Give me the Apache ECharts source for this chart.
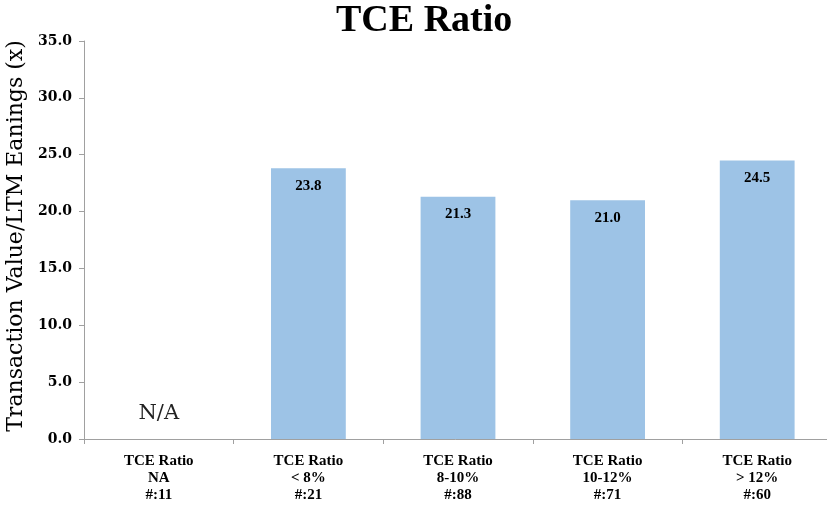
<!DOCTYPE html>
<html><head><meta charset="utf-8">
<script src="https://cdn.jsdelivr.net/npm/echarts@6/dist/echarts.min.js"></script>
<style>html,body{margin:0;padding:0;background:#fff}#c{width:827px;height:505px}</style>
</head><body><div id="c"></div>
<script>
var categories = ["TCE Ratio\nNA\n#:11", "TCE Ratio\n< 8%\n#:21", "TCE Ratio\n8-10%\n#:88", "TCE Ratio\n10-12%\n#:71", "TCE Ratio\n> 12%\n#:60"];
var values = [null, 23.8, 21.3, 21.0, 24.5];
var naLabel = "N/A";
var yTicks = [0, 5, 10, 15, 20, 25, 30, 35];

var serif = "'Liberation Serif','DejaVu Serif',serif";
var wide = "'DejaVu Serif','Liberation Serif',serif";
var data = values.map(function(v){
  if (v === null) {
    return {value: 0, label: {show: true, position: 'top', distance: 15, formatter: naLabel,
      fontWeight: 'normal', fontSize: 21, color: '#222', fontFamily: wide}};
  }
  return v;
});
var chart = echarts.init(document.getElementById('c'));
chart.setOption({
  animation: false,
  title: {text: 'TCE Ratio', left: 331, top: -3,
    textStyle: {fontFamily: serif, fontWeight: 'bold', fontSize: 38, color: '#000'}},
  grid: {left: 84, top: 41, bottom: 66, width: 748, outerBoundsMode: 'none', containLabel: false},
  xAxis: {type: 'category', data: categories,
    axisLine: {lineStyle: {color: '#a0a0a0'}},
    axisTick: {show: true, alignWithLabel: false, length: 5, lineStyle: {color: '#a0a0a0'}},
    axisLabel: {interval: 0, fontFamily: serif, fontWeight: 'bold', fontSize: 15, color: '#000', lineHeight: 17, margin: 14}},
  yAxis: {type: 'value', min: yTicks[0], max: yTicks[yTicks.length-1], interval: 5,
    name: 'Transaction Value/LTM Eanings (x)', nameLocation: 'middle', nameGap: 52,
    nameTextStyle: {fontFamily: wide, fontSize: 22, color: '#000', padding: [0, 0, 0, 8]},
    axisLine: {show: true, lineStyle: {color: '#a0a0a0'}},
    axisTick: {show: true, length: 5, lineStyle: {color: '#a0a0a0'}},
    splitLine: {show: false},
    axisLabel: {formatter: function(v){return v.toFixed(1);}, fontFamily: wide, fontWeight: 'bold', fontSize: 14, color: '#000', margin: 12}},
  series: [{type: 'bar', data: data, barCategoryGap: '50%',
    itemStyle: {color: '#9DC3E6'},
    label: {show: true, position: 'insideTop', distance: 10,
      formatter: function(p){return p.value.toFixed(1);},
      fontFamily: serif, fontWeight: 'bold', fontSize: 15, color: '#000'}}]
});
</script></body></html>
